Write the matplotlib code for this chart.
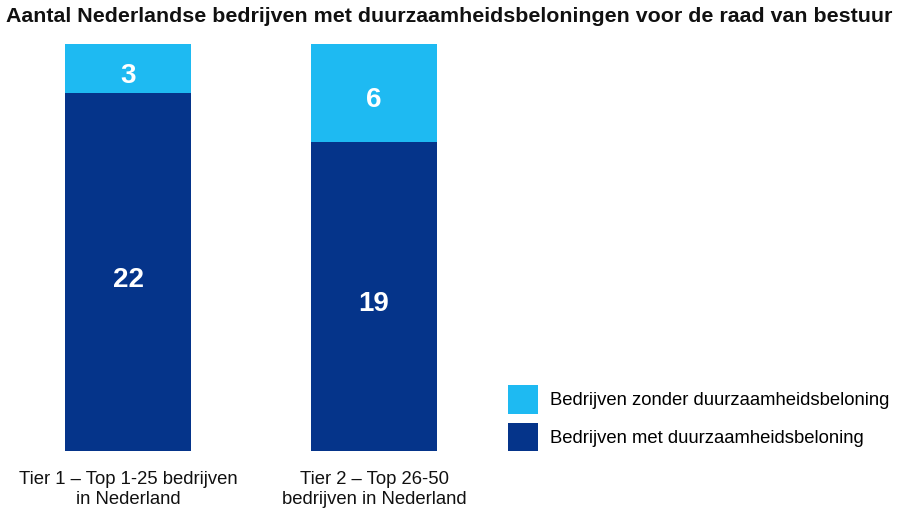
import matplotlib
matplotlib.use("Agg")
import matplotlib.pyplot as plt
from matplotlib.patches import Patch

# data
categories = ["Tier 1 – Top 1-25 bedrijven\nin Nederland", "Tier 2 – Top 26-50\nbedrijven in Nederland"]
met_beloning = [22, 19]
zonder_beloning = [3, 6]
series_labels = ["Bedrijven zonder duurzaamheidsbeloning", "Bedrijven met duurzaamheidsbeloning"]
title = "Aantal Nederlandse bedrijven met duurzaamheidsbeloningen voor de raad van bestuur"

dark_blue = "#05348A"
light_blue = "#1EBAF2"
fonts = ["Liberation Sans", "DejaVu Sans"]

W, H = 900, 517
fig = plt.figure(figsize=(W / 100, H / 100), dpi=100)

# axes spans full width; x positions mapped so bar centres land at ~128 and ~374 px
step = 246.0
ax = fig.add_axes([0, 66 / H, 1, 407 / H])
ax.set_xlim(-128 / step, (W - 128) / step)
ax.set_ylim(0, met_beloning[0] + zonder_beloning[0])

x = list(range(len(categories)))
bw = 126 / step
bars_met = ax.bar(x, met_beloning, width=bw, color=dark_blue)
bars_zonder = ax.bar(x, zonder_beloning, width=bw, bottom=met_beloning, color=light_blue)

for vals, bottoms in [(met_beloning, [0] * len(x)), (zonder_beloning, met_beloning)]:
    for xi, v, b in zip(x, vals, bottoms):
        ax.annotate(str(v), (xi, b + v / 2), xytext=(0, -5.5), textcoords="offset points",
                    ha="center", va="center", color="white", fontsize=20,
                    fontweight="bold", family=fonts)

ax.set_xticks(x)
ax.set_xticklabels(categories, fontsize=13.3, family=fonts, color="#111111", linespacing=1.25)
ax.tick_params(axis="x", length=0, pad=14.5)
ax.set_yticks([])
for s in ax.spines.values():
    s.set_visible(False)

t = fig.text(6 / W, 1 - 17 / H, title, ha="left", va="center", fontsize=14,
             fontweight="bold", family=fonts, color="#111111")
# size title so it spans the same width as in the reference
fig.canvas.draw()
tw = t.get_window_extent().width
t.set_fontsize(14 * 886 / tw)

handles = [Patch(facecolor=light_blue), Patch(facecolor=dark_blue)]
fig.legend(handles, series_labels, loc="upper left", bbox_to_anchor=(508 / W, 1 - 385 / H),
           frameon=False, prop={"family": fonts, "size": 13.3},
           handlelength=1.62, handleheight=2.0, labelspacing=0.5, handletextpad=0.65,
           borderpad=0, borderaxespad=0)

fig.savefig("out.png", dpi=100, facecolor="white")
